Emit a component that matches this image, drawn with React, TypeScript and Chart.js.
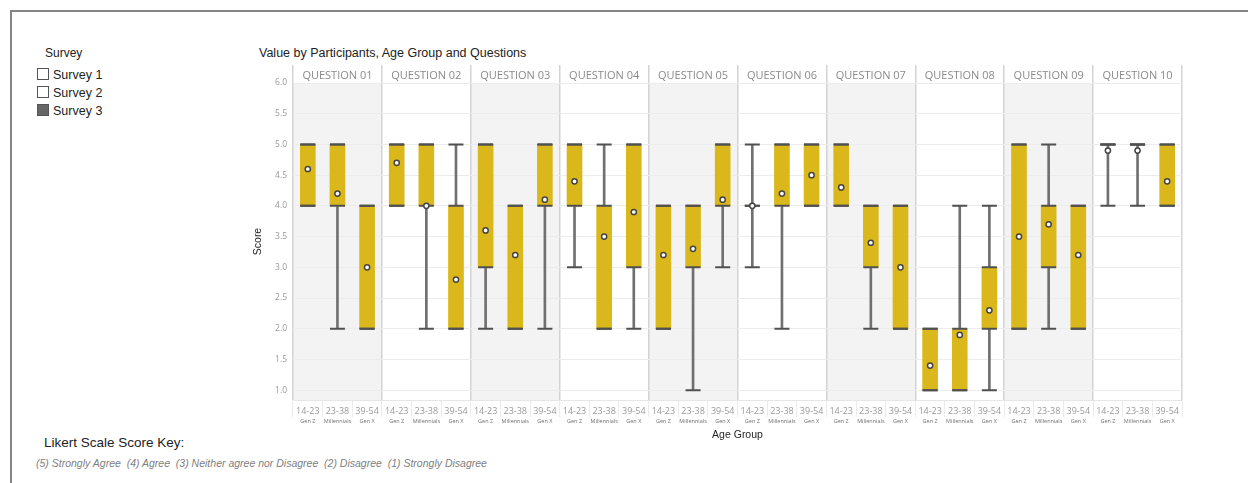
import { useEffect, useRef } from 'react';
import { Chart, registerables } from 'chart.js';

Chart.register(...registerables);

// Panels (one per question) and the three age groups inside each panel
const questions = [
  'QUESTION 01', 'QUESTION 02', 'QUESTION 03', 'QUESTION 04', 'QUESTION 05',
  'QUESTION 06', 'QUESTION 07', 'QUESTION 08', 'QUESTION 09', 'QUESTION 10',
];
const ageRanges = ['14-23', '23-38', '39-54'];
const generations = ['Gen Z', 'Millennials', 'Gen X'];

// Box-plot statistics, question by question, age group by age group
const minScores = [4, 2, 2, 4, 2, 2, 2, 2, 2, 3, 2, 2, 2, 1, 3, 3, 2, 4, 4, 2, 2, 1, 1, 1, 2, 2, 2, 4, 4, 4];
const q1Scores = [4, 4, 2, 4, 4, 2, 3, 2, 4, 4, 2, 3, 2, 3, 4, 4, 4, 4, 4, 3, 2, 1, 1, 2, 2, 3, 2, 5, 5, 4];
const q3Scores = [5, 5, 4, 5, 5, 4, 5, 4, 5, 5, 4, 5, 4, 4, 5, 4, 5, 5, 5, 4, 4, 2, 2, 3, 5, 4, 4, 5, 5, 5];
const maxScores = [5, 5, 4, 5, 5, 5, 5, 4, 5, 5, 5, 5, 4, 4, 5, 5, 5, 5, 5, 4, 4, 2, 4, 4, 5, 5, 4, 5, 5, 5];
const meanScores = [
  4.6, 4.2, 3.0, 4.7, 4.0, 2.8, 3.6, 3.2, 4.1, 4.4, 3.5, 3.9, 3.2, 3.3, 4.1,
  4.0, 4.2, 4.5, 4.3, 3.4, 3.0, 1.4, 1.9, 2.3, 3.5, 3.7, 3.2, 4.9, 4.9, 4.4,
];
const scoreTicks = [1.0, 1.5, 2.0, 2.5, 3.0, 3.5, 4.0, 4.5, 5.0, 5.5, 6.0];

const ageLabels = questions.flatMap(() => ageRanges);
const generationLabels = questions.flatMap(() => generations);

const SEGOE_LIKE = "'Open Sans', 'Noto Sans', sans-serif";
const ARIAL_LIKE = "'Liberation Sans', Arial, sans-serif";
const BOX_COLOR = '#dab81c';
const CAP_COLOR = '#505050';

// Light grey background behind every other question panel
const panelShading = {
  id: 'panelShading',
  beforeDraw(chart: any) {
    const xq = chart.scales.xq;
    const { top, bottom } = chart.chartArea;
    const ctx = chart.ctx;
    const half = (xq.getPixelForTick(1) - xq.getPixelForTick(0)) / 2;
    ctx.save();
    ctx.fillStyle = '#f3f3f3';
    questions.forEach((_, i) => {
      if (i % 2 === 0) {
        const c = xq.getPixelForTick(i);
        ctx.fillRect(c - half, top, half * 2, bottom - top);
      }
    });
    ctx.restore();
  },
};

const capDataset = (data: number[]) => ({
  type: 'line' as const,
  data,
  xAxisID: 'x',
  yAxisID: 'y',
  showLine: false,
  pointStyle: 'line',
  pointRadius: 7.5,
  pointHoverRadius: 7.5,
  pointBorderWidth: 2,
  pointBorderColor: CAP_COLOR,
  pointBackgroundColor: CAP_COLOR,
  order: 2,
});

function BoxPlotChart() {
  const canvasRef = useRef<HTMLCanvasElement>(null);

  useEffect(() => {
    if (!canvasRef.current) return;
    const chart = new Chart(canvasRef.current, {
      type: 'bar',
      data: {
        labels: ageLabels,
        datasets: [
          {
            type: 'bar',
            label: 'Whisker',
            data: minScores.map((v, i) => [v, maxScores[i]]),
            xAxisID: 'x',
            yAxisID: 'y',
            backgroundColor: '#707070',
            borderWidth: 0,
            barThickness: 2,
            grouped: false,
            order: 5,
          },
          {
            type: 'bar',
            label: 'Box',
            data: q1Scores.map((v, i) => [v, q3Scores[i]]),
            xAxisID: 'x',
            yAxisID: 'y',
            backgroundColor: BOX_COLOR,
            borderWidth: 0,
            barThickness: 15,
            grouped: false,
            order: 4,
          },
          capDataset(minScores),
          capDataset(maxScores),
          capDataset(q1Scores),
          capDataset(q3Scores),
          {
            type: 'line',
            label: 'Mean',
            data: meanScores,
            xAxisID: 'x',
            yAxisID: 'y',
            showLine: false,
            pointStyle: 'circle',
            pointRadius: 2.6,
            pointHoverRadius: 2.6,
            pointBorderWidth: 1.5,
            pointBackgroundColor: '#ffffff',
            pointBorderColor: '#444444',
            order: 0,
          },
        ] as any,
      },
      options: {
        responsive: false,
        animation: false,
        layout: { padding: { left: 0, right: 14, top: 0, bottom: 0 } },
        plugins: {
          legend: { display: false },
          tooltip: { enabled: false },
        },
        scales: {
          x: {
            type: 'category',
            position: 'bottom',
            offset: true,
            weight: 1,
            grid: { offset: true, drawOnChartArea: false, tickLength: 17, color: '#ebebeb' },
            border: { color: '#e6e6e6' },
            ticks: {
              autoSkip: false,
              maxRotation: 0,
              padding: -11,
              color: '#9a9a9a',
              font: { family: SEGOE_LIKE, size: 9 },
            },
            afterFit: (s: any) => { s.height = 17; },
          },
          x2: {
            type: 'category',
            labels: generationLabels,
            position: 'bottom',
            offset: true,
            weight: 2,
            grid: { display: false, drawTicks: false },
            border: { display: false },
            ticks: {
              autoSkip: false,
              maxRotation: 0,
              padding: 0.7,
              color: '#707070',
              font: { family: SEGOE_LIKE, size: 5.5 },
            },
            title: {
              display: true,
              text: 'Age Group',
              color: '#252525',
              font: { family: ARIAL_LIKE, size: 10.5 },
              padding: { top: 0, bottom: 0 },
            },
            afterFit: (s: any) => { s.height = 24; },
          },
          xq: {
            type: 'category',
            labels: questions,
            position: 'top',
            offset: true,
            grid: { offset: true, color: '#d3d3d3', lineWidth: 1.5, tickLength: 18 },
            border: { display: false },
            ticks: {
              autoSkip: false,
              maxRotation: 0,
              padding: -17.4,
              color: '#8a8a8a',
              font: { family: SEGOE_LIKE, size: 11 },
            },
            afterFit: (s: any) => { s.height = 21; },
          },
          y: {
            type: 'linear',
            min: 0.84,
            max: 6,
            afterBuildTicks: (s: any) => { s.ticks = scoreTicks.map((value) => ({ value })); },
            afterFit: (s: any) => { s.width = 45; },
            grid: { color: '#ececec', drawTicks: false },
            border: { display: false },
            ticks: {
              padding: 6,
              color: '#9a9a9a',
              font: { family: SEGOE_LIKE, size: 8.5 },
              callback: (v: any) => Number(v).toFixed(1),
            },
            title: {
              display: true,
              text: 'Score',
              color: '#252525',
              font: { family: ARIAL_LIKE, size: 10.5 },
              padding: { top: 3.5, bottom: 0 },
            },
          },
        } as any,
      },
      plugins: [panelShading],
    });
    return () => chart.destroy();
  }, []);

  return (
    <canvas
      ref={canvasRef}
      width={948}
      height={379}
      style={{ position: 'absolute', left: 248, top: 62, width: 948, height: 379 }}
    />
  );
}

const legendItems = [
  { label: 'Survey 1', checked: false, top: 68 },
  { label: 'Survey 2', checked: false, top: 86 },
  { label: 'Survey 3', checked: true, top: 104 },
];

export default function App() {
  return (
    <div
      style={{
        position: 'absolute',
        left: 0,
        top: 0,
        width: 1248,
        height: 483,
        background: '#ffffff',
        overflow: 'hidden',
        fontFamily: ARIAL_LIKE,
      }}
    >
      <div
        style={{
          position: 'absolute',
          left: 10,
          top: 10,
          width: 1240,
          height: 480,
          borderTop: '2px solid #858585',
          borderLeft: '2px solid #858585',
        }}
      />
      <div style={{ position: 'absolute', left: 45, top: 46, fontSize: 12, lineHeight: '14px', color: '#222' }}>
        Survey
      </div>
      {legendItems.map((item) => (
        <div key={item.label}>
          <div
            style={{
              position: 'absolute',
              left: 37,
              top: item.top,
              width: 12,
              height: 12,
              boxSizing: 'border-box',
              border: '1px solid #555',
              background: item.checked ? '#666' : '#fff',
            }}
          />
          <div
            style={{
              position: 'absolute',
              left: 53,
              top: item.top,
              fontSize: 12.5,
              lineHeight: '14px',
              color: '#222',
            }}
          >
            {item.label}
          </div>
        </div>
      ))}
      <div style={{ position: 'absolute', left: 259, top: 46, fontSize: 12.5, lineHeight: '15px', color: '#222' }}>
        Value by Participants, Age Group and Questions
      </div>
      <BoxPlotChart />
      <div style={{ position: 'absolute', left: 44, top: 435, fontSize: 13.5, lineHeight: '16px', color: '#222' }}>
        Likert Scale Score Key:
      </div>
      <div
        style={{
          position: 'absolute',
          left: 36,
          top: 457,
          fontSize: 10.5,
          lineHeight: '12px',
          fontStyle: 'italic',
          color: '#808080',
          whiteSpace: 'pre',
        }}
      >
        {'(5) Strongly Agree  (4) Agree  (3) Neither agree nor Disagree  (2) Disagree  (1) Strongly Disagree'}
      </div>
    </div>
  );
}
